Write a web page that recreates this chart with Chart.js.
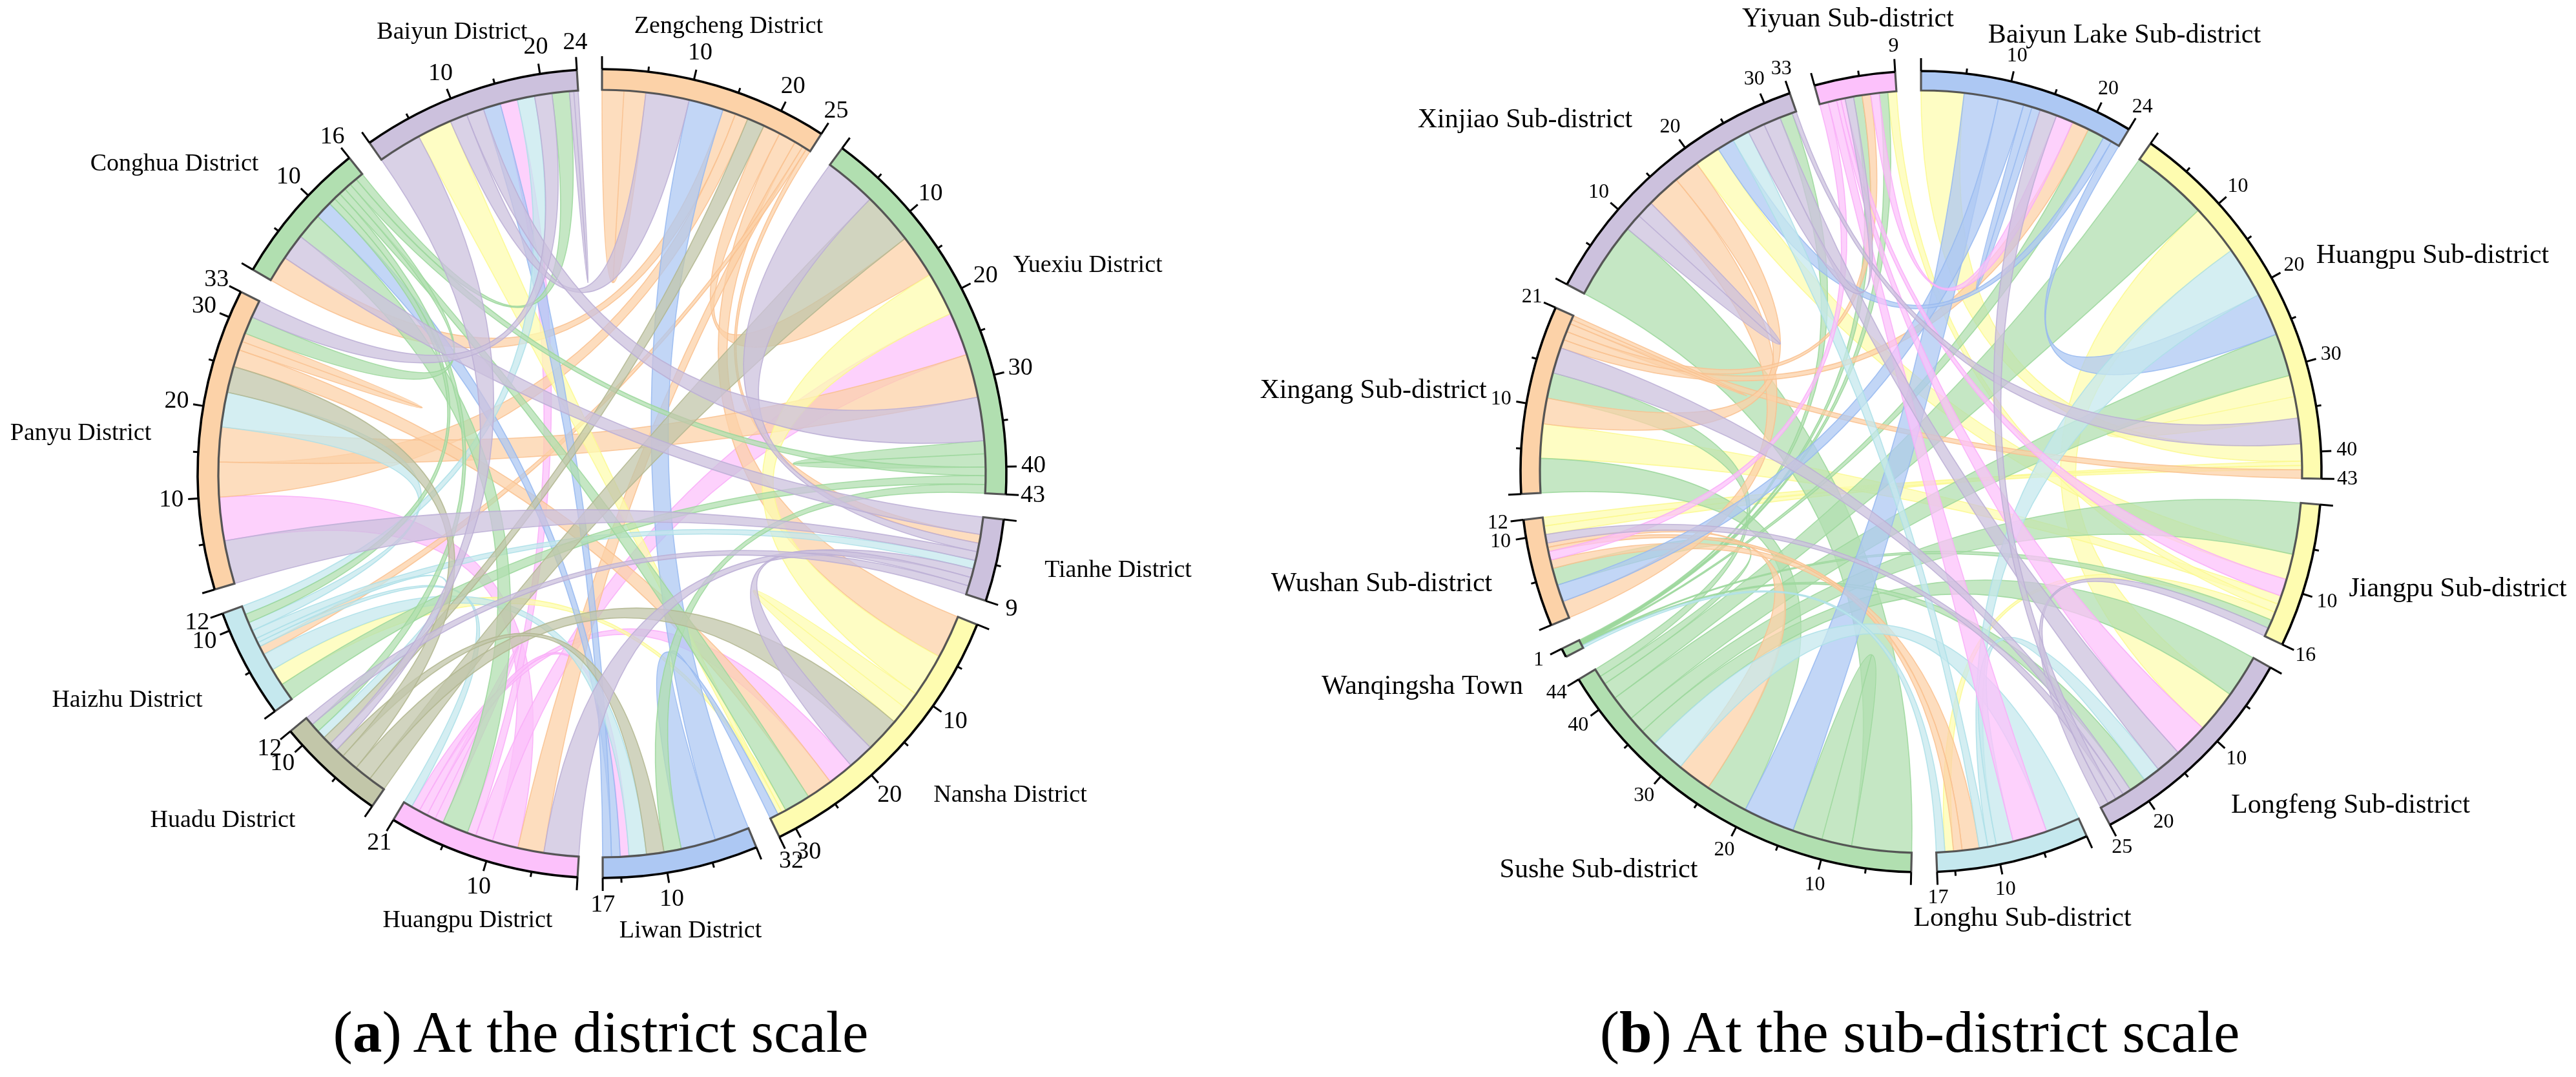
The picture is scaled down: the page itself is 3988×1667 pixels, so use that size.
<!DOCTYPE html>
<html><head><meta charset="utf-8">
<script src="https://cdn.jsdelivr.net/npm/chart.js@4"></script>
<style>
html,body{margin:0;padding:0;background:#fff;width:3988px;height:1667px;overflow:hidden}
canvas{position:absolute;left:0;top:0}
.cap{position:absolute;font-family:"Liberation Serif",serif;font-size:91px;color:#000;white-space:nowrap;line-height:1;transform:translateX(-50%)}
</style></head><body>
<canvas id="a" width="3988" height="1667"></canvas>
<canvas id="b" width="3988" height="1667"></canvas>
<div class="cap" style="left:930px;top:1552px">(<b>a</b>) At the district scale</div>
<div class="cap" style="left:2972px;top:1552px">(<b>b</b>) At the sub-district scale</div>
<script>
// palette indices
const O=0,G=1,U=2,W=3,B=4,K=5,V=6,A=7;
const fills=['#FCD2A8','#B1DFB0','#CCC1DD','#FEFCB0','#ADC8F3','#FCC1FB','#C2C6A9','#C5E8EE'];
const edges=['#F9C18F','#9BD79B','#BBAED5','#FBF98F','#97B9F0','#F9ADF8','#B2B68F','#ABDFE8'];

// ---- (a) district scale ----
const districtNames=['Zengcheng District','Yuexiu District','Tianhe District','Nansha District','Liwan District','Huangpu District','Huadu District','Haizhu District','Panyu District','Conghua District','Baiyun District'];
const districtTotals=[25,43,9,32,17,21,12,12,33,16,24];
const districtColors=[O,G,U,W,B,K,V,A,O,G,U];
const districtNameX=[1128,1684,1731,1564,1069,724,345,197,125,270,700];
const districtNameY=[41,411,883,1231,1441,1425,1270,1084,671,254,50];
const Z=0,Y=1,T=2,N=3,L=4,H=5,D=6,I=7,P=8,C=9,Ba=10;
const districtFlows=[
[H,7,10,P,5,10,K],[Y,22,27,H,10,12,K],[H,16,17,H,17,18,K],[H,12,13,Ba,15,17,K],[N,21,24,H,19,20,K],[L,14,15,H,18,19,K],
[Z,0,2.5,Z,2.5,5,O],[Z,14,15.5,C,0,3,O],[Z,15.5,17,P,10,14,O],[Z,19,21,Y,12,17,O],[Z,21,23,N,0,5,O],[Z,23,24,H,4,7,O],[Z,24,24.5,I,6,7,O],[Z,24.5,25,T,2,3,O],[Y,27,32,P,14,18,O],[N,24,27,P,25,27,O],[P,27,28,P,28,29,O],
[Y,17,22,N,5,10,W],[N,10,12,N,12,14,W],[N,30,30.5,I,2,4,W],[N,30.5,31,Ba,5,9,W],
[Z,10,14,L,0,4,B],[N,31,32,L,4,8,B],[L,15,16,C,9,11,B],[L,16,17,Ba,13,15,B],
[T,5,6,I,8,9,A],[L,12,14,I,4,6,A],[H,20,21,I,7,7.5,A],[D,9,10,I,7.5,8,A],[I,9,10,P,18,22,A],[I,11,12,Ba,17,19,A],
[Y,37,38.5,Y,38.5,40,G],[Y,40,41,C,14.2,15.1,G],[Y,41,42,I,0,2,G],[Y,42,43,L,8,10,G],[N,27,30,C,12.6,13.4,G],[H,13,16,C,6,9,G],[D,10,11,C,11.8,12.6,G],[I,10,11,C,11,11.8,G],[P,29,31,C,13.4,14.2,G],[C,15.1,16,Ba,21,23,G],
[Z,17,19,D,8,9,V],[Y,6,12,D,0,2,V],[N,14,18,D,2,4,V],[L,10,12,D,6,7,V],[D,4,6,P,22,25,V],
[Z,5,10,Ba,9,11,U],[Y,0,6,T,3,4,U],[Y,32,37,Ba,11,13,U],[T,0,2,C,3,6,U],[T,4,5,P,0,5,U],[T,6,7,H,0,4,U],[T,7,8,N,18,21,U],[T,8,9,D,11,12,U],[D,7,8,Ba,0,5,U],[P,31,33,Ba,19,21,U],[Ba,23,23.5,Ba,23.5,24,U]
];

// ---- (b) sub-district scale ----
const subNames=['Baiyun Lake Sub-district','Huangpu Sub-district','Jiangpu Sub-district','Longfeng Sub-district','Longhu Sub-district','Sushe Sub-district','Wanqingsha Town','Wushan Sub-district','Xingang Sub-district','Xinjiao Sub-district','Yiyuan Sub-district'];
const subTotals=[24,43,16,25,17,44,1,12,21,33,9];
const subColors=[B,W,W,U,A,G,G,O,O,U,K];
const subNameX=[3289,3766,3805,3639,3131,2475,2202,2139,2126,2361,2861];
const subNameY=[55,396,912,1247,1422,1347,1063,904,605,186,30];
const Aa=0,Hp=1,J=2,Lf=3,Lh=4,S=5,Wq=6,Ws=7,X=8,Xj=9,Yy=10;
const subFlows=[
[Hp,9,15,Lf,5,10,W],[Hp,31,33.5,Hp,33.5,36,W],[Hp,39,41,Aa,0,5,W],[Hp,41,41.5,Ws,10,11,W],[Hp,41.5,42,Ws,11,12,W],[J,6,9,Xj,20,23,W],[J,11,12,X,4,8,W],[J,12,13,Yy,8,9,W],[J,13,14,Lh,15,16,W],
[S,0,7,Xj,0,9,G],[S,7,10.5,S,10.5,14,G],[S,20,25,X,0,4,G],[S,33,35,Lf,0,5,G],[S,35,37,J,0,6,G],[S,37,40,Hp,26,31,G],[S,40,42,Hp,0,9,G],[S,42,43,Ws,4,6,G],[S,43,44,X,11,14,G],
[Wq,.3,.417,Lf,19,21,G],[Wq,.417,.533,J,14,15,G],[Wq,.533,.65,Aa,20,22,G],[Wq,.65,.767,Yy,7,8,G],[Wq,.767,.883,Yy,4,5,G],[Wq,.883,1,Xj,31,32.5,G],
[S,25,29,Ws,8.5,9,O],[Hp,42,43,X,19,20,O],[Lh,12,14,Ws,6,7,O],[Lh,14,15,Ws,8,8.5,O],[Ws,0,2,Xj,13,17,O],[X,8,11,Xj,17,20,O],[X,17,18,Aa,18,20,O],[X,18,19,Yy,5,6,O],[X,20,20.5,X,20.5,21,O],
[S,14,20,Aa,5,9,B],[Hp,21,26,Aa,23,24,B],[Ws,2,4,Aa,9,12,B],[Aa,12,13,Aa,13,14,B],[Aa,22,23,Xj,23,25,B],
[S,29,33,Lh,0,4,A],[Wq,0,.3,Lh,16,17,A],[Hp,15,21,Lh,10,11,A],[Lf,17,19,Lh,8,10,A],[Lh,11,12,Xj,25,27,A],
[J,9,11,Yy,2.5,3,K],[Lf,10,14,Yy,2,2.5,K],[Lh,4,8,Yy,1,2,K],[Ws,7,8,Yy,0,1,K],[Aa,16,18,Yy,6,7,K],
[Hp,36,39,Xj,32.5,33,U],[J,15,16,Lf,24,25,U],[Lf,14,17,Xj,29,31,U],[Lf,21,22,X,14,17,U],[Lf,22,23,Ws,9,10,U],[Lf,23,24,Aa,14,16,U],[Xj,9,11,Xj,11,13,U],[Xj,27,29,Yy,3,4,U]
];

function chord(id,o){
  const data=[],bg=[];
  o.totals.forEach((t,i)=>{data.push(t,o.gap);bg.push(fills[o.colors[i]],'rgba(0,0,0,0)');});
  const arcOf=(c,i)=>c.getDatasetMeta(0).data[2*i];
  const ribbons={id:'ribbons',beforeDatasetsDraw(c){
    const ctx=c.ctx;ctx.save();
    o.flows.forEach(f=>{
      const a=arcOf(c,f[0]),b=arcOf(c,f[3]),r=a.innerRadius-1,x=a.x,y=a.y;
      const ua=(a.endAngle-a.startAngle)/o.totals[f[0]],ub=(b.endAngle-b.startAngle)/o.totals[f[3]];
      const a0=a.startAngle+ua*f[1],a1=a.startAngle+ua*f[2],b0=b.startAngle+ub*f[4],b1=b.startAngle+ub*f[5];
      ctx.beginPath();
      ctx.arc(x,y,r,a0,a1);
      ctx.quadraticCurveTo(x,y,x+r*Math.cos(b0),y+r*Math.sin(b0));
      ctx.arc(x,y,r,b0,b1);
      ctx.quadraticCurveTo(x,y,x+r*Math.cos(a0),y+r*Math.sin(a0));
      ctx.closePath();
      ctx.globalAlpha=.75;ctx.fillStyle=fills[f[6]];ctx.fill();
      ctx.globalAlpha=.85;ctx.strokeStyle=edges[f[6]];ctx.lineWidth=1.6;ctx.stroke();
    });
    ctx.restore();
  },afterDatasetsDraw(c){
    const ctx=c.ctx;ctx.save();ctx.globalAlpha=1;
    o.totals.forEach((t,i)=>{
      const a=arcOf(c,i),x=a.x,y=a.y,R=a.outerRadius,r=a.innerRadius,u=(a.endAngle-a.startAngle)/t;
      ctx.strokeStyle='#555';ctx.lineWidth=3.2;ctx.lineCap='butt';
      ctx.beginPath();
      ctx.moveTo(x+R*Math.cos(a.startAngle),y+R*Math.sin(a.startAngle));
      ctx.lineTo(x+r*Math.cos(a.startAngle),y+r*Math.sin(a.startAngle));
      ctx.arc(x,y,r,a.startAngle,a.endAngle);
      ctx.lineTo(x+R*Math.cos(a.endAngle),y+R*Math.sin(a.endAngle));
      ctx.stroke();
      ctx.strokeStyle='#000';ctx.lineWidth=3.6;
      ctx.beginPath();ctx.arc(x,y,R,a.startAngle,a.endAngle);ctx.stroke();
      const vals=[];for(let v=0;v<t-1;v+=5)vals.push(v);vals.push(t);
      ctx.font=o.tickFont;ctx.fillStyle='#000';ctx.textAlign='center';ctx.textBaseline='middle';
      vals.forEach(v=>{
        const ang=a.startAngle+u*v,len=(v===0||v===t)?20:(v%10===0?16:8);
        ctx.lineWidth=3;
        ctx.beginPath();ctx.moveTo(x+R*Math.cos(ang),y+R*Math.sin(ang));
        ctx.lineTo(x+(R+len)*Math.cos(ang),y+(R+len)*Math.sin(ang));ctx.stroke();
        if(v>0&&(v%10===0||v===t)){
          ctx.fillText(String(v),x+(R+o.tickOff)*Math.cos(ang),y+(R+o.tickOff)*Math.sin(ang));
        }
      });
    });
    ctx.font=o.nameFont;ctx.fillStyle='#000';ctx.textAlign='center';ctx.textBaseline='middle';
    o.names.forEach((n,i)=>ctx.fillText(n,o.nameX[i],o.nameY[i]));
    ctx.restore();
  }};
  return new Chart(document.getElementById(id),{
    type:'doughnut',
    data:{labels:o.totals.flatMap((t,i)=>[o.names[i],'']),datasets:[{data,backgroundColor:bg,borderWidth:0,hoverOffset:0}]},
    options:{responsive:false,devicePixelRatio:1,animation:false,events:[],
      radius:o.R,cutout:(o.r/o.R*100)+'%',rotation:0,circumference:360,
      layout:{padding:o.pad},
      plugins:{legend:{display:false},tooltip:{enabled:false},title:{display:false}}},
    plugins:[ribbons]
  });
}
chord('a',{totals:districtTotals,colors:districtColors,names:districtNames,nameX:districtNameX,nameY:districtNameY,flows:districtFlows,
  gap:2.717,R:626,r:594,pad:{left:0,right:2124,top:0,bottom:201},tickFont:'38px "Liberation Serif"',nameFont:'38px "Liberation Serif"',tickOff:42});
chord('b',{totals:subTotals,colors:subColors,names:subNames,nameX:subNameX,nameY:subNameY,flows:subFlows,
  gap:2.84,R:620,r:590,pad:{left:1960,right:0,top:0,bottom:207},tickFont:'32px "Liberation Serif"',nameFont:'42px "Liberation Serif"',tickOff:40});
</script>
</body></html>
